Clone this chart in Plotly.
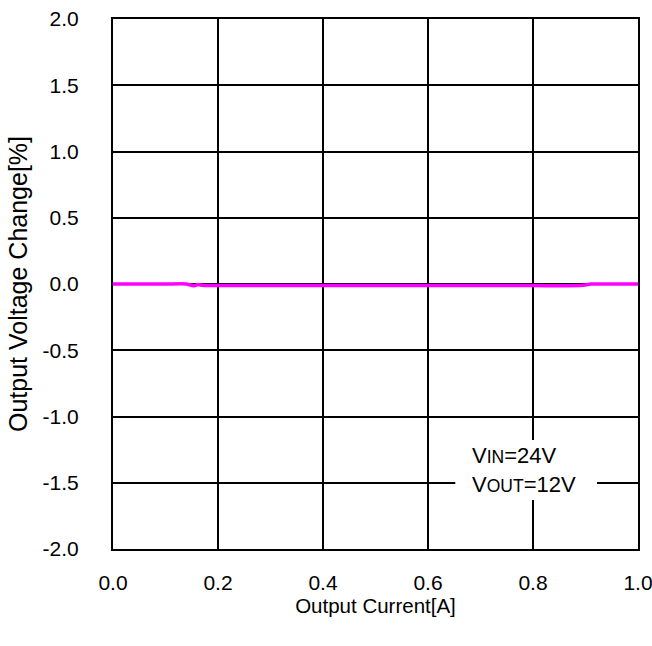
import plotly.graph_objects as go

# output current [A] and output voltage change [%]
current = [0.0, 0.05, 0.10, 0.14, 0.148, 0.155, 0.162, 0.17, 0.18, 0.2, 0.3, 0.4, 0.5, 0.6, 0.7, 0.8, 0.89, 0.90, 0.91, 0.95, 1.0]
change = [0.0, 0.0, 0.0, 0.0, -0.008, -0.013, -0.004, -0.01, -0.012, -0.012, -0.012, -0.012, -0.012, -0.012, -0.012, -0.012, -0.012, -0.008, 0.0, 0.0, 0.0]

x_ticks = [0.0, 0.2, 0.4, 0.6, 0.8, 1.0]
y_ticks = [-2.0, -1.5, -1.0, -0.5, 0.0, 0.5, 1.0, 1.5, 2.0]

fig = go.Figure()
fig.add_trace(go.Scatter(x=current, y=change, mode="lines",
                         line=dict(color="#ff00ff", width=3.5, shape="spline", smoothing=0.6),
                         showlegend=False))

# white patch behind the condition label, over the grid
fig.add_shape(type="rect", xref="x", yref="y", x0=0.652, x1=0.922, y0=-1.63, y1=-1.177,
              fillcolor="white", line=dict(width=0), layer="between")

small = "<span style='font-size:17.5px'>"
fig.add_annotation(x=0.68, y=-1.404, xref="x", yref="y", xanchor="left",
                   text="V" + small + "IN</span>=24V<br>V" + small + "OUT</span>=12V",
                   showarrow=False, align="left",
                   font=dict(size=22, color="black"))

fig.update_layout(
    width=652, height=646,
    margin=dict(l=113, r=14, t=19, b=97),
    paper_bgcolor="white", plot_bgcolor="white",
    font=dict(family="Liberation Sans, Arial", size=21, color="black"),
)
fig.update_xaxes(range=[0, 1], tickvals=x_ticks, ticktext=["%.1f" % v for v in x_ticks],
                 showgrid=True, gridcolor="black", gridwidth=1.5,
                 showline=True, linecolor="black", linewidth=2, mirror=True,
                 zeroline=False, ticks="", ticklabelstandoff=14, automargin=False,
                 ticklabeloverflow="allow",
                 title=dict(text="Output Current[A]", standoff=3, font=dict(size=20.5)))
fig.update_yaxes(range=[-2, 2], tickvals=y_ticks, ticktext=["%.1f" % v for v in y_ticks],
                 showgrid=True, gridcolor="black", gridwidth=1.5,
                 showline=True, linecolor="black", linewidth=2, mirror=True,
                 zeroline=False, ticks="", ticklabelstandoff=28, automargin=False,
                 ticklabeloverflow="allow",
                 title=dict(text="Output Voltage Change[%]", standoff=8, font=dict(size=25)))

# drop the page's default body margin so the figure sits at the window corner
fig.write_html("out.html", config={"displayModeBar": False},
               post_script="document.body.style.margin='0';document.body.style.overflow='hidden';")
